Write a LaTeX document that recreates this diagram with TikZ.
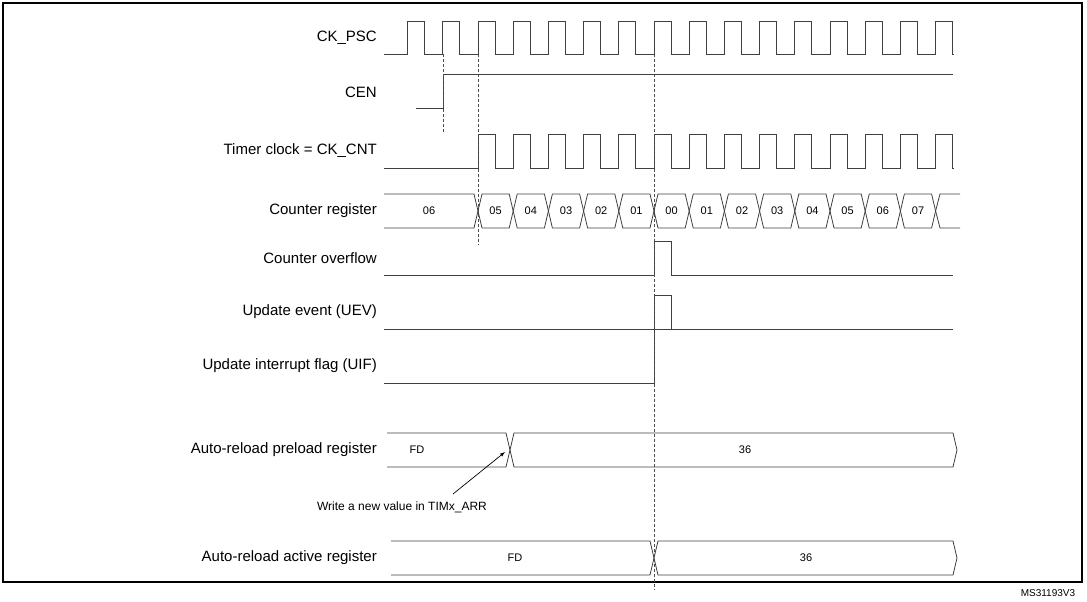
\documentclass[tikz,border=0pt]{standalone}
\usepackage{fontspec}
\setmainfont{Liberation Sans}
\tikzset{
  sig/.style={line width=0.8pt, black!75},
  guide/.style={densely dashed, line width=0.6pt, black!70},
  lbl/.style={anchor=east, inner sep=0pt, font=\fontsize{15}{15}\selectfont},
  val/.style={inner sep=0pt, font=\fontsize{11}{11}\selectfont}
}
% one bus segment between two transitions
\newcommand\busseg[5]{% #1 from, #2 to, #3 top, #4 bottom, #5 text
  \draw[sig] ({#1},{(#3+#4)/2}) -- ({#1+4},#3) -- ({#2-4},#3) -- ({#2},{(#3+#4)/2})
    -- ({#2-4},#4) -- ({#1+4},#4) -- cycle;
  \node[val] at ({(#1+#2)/2},{(#3+#4)/2}) {#5};}

\begin{document}
\begin{tikzpicture}[x=1pt, y=-1pt]
  \useasboundingbox (0,0) rectangle (1087,602);
  \draw[line width=1.2pt] (3,3) rectangle (1082,582);

  % labels
  \node[lbl] (psc) at (377,38) {CK\_PSC};
  \node[lbl] (cen) at (377,92) {CEN};
  \node[lbl] (cnt) at (377,151) {Timer clock = CK\_CNT};
  \node[lbl] (reg) at (377,211) {Counter register};
  \node[lbl] (ovf) at (377,258) {Counter overflow};
  \node[lbl] (uev) at (377,312) {Update event (UEV)};
  \node[lbl] (uif) at (377,366) {Update interrupt flag (UIF)};
  \node[lbl] (pre) at (377,450) {Auto-reload preload register};
  \node[lbl] (act) at (377,558) {Auto-reload active register};

  % clocks
  \draw[sig] (384,54) \foreach \k in {0,...,15}{
    -- ({407.6+35.2*\k},54) -- ++(0,-33) -- ++(17,0) -- ++(0,33)} -- (953,54);
  \draw[sig] (416,108) -- (443,108) -- (443,74) -- (953,74);
  \draw[sig] (384,168) \foreach \k in {2,...,15}{
    -- ({407.6+35.2*\k},168) -- ++(0,-34) -- ++(17,0) -- ++(0,34)} -- (953,168);

  % counter register
  \draw[sig] (384,194) -- (474,194) -- (478,211) -- (474,228) -- (384,228);
  \node[val] at (429,211) {06};
  \foreach \t [count=\i from 0] in {05,04,03,02,01,00,01,02,03,04,05,06,07}
    \busseg{478+35.2*\i}{478+35.2*(\i+1)}{194}{228}{\t};
  \draw[sig] (960,194) -- (940,194) -- (935.6,211) -- (940,228) -- (960,228);

  % overflow, event, flag
  \draw[sig] (384,275) -- (654,275) -- (654,241) -- (671,241) -- (671,275) -- (953,275);
  \draw[sig] (384,329) -- (654,329) -- (654,295) -- (671,295) -- (671,329) -- (953,329);
  \draw[sig] (384,383) -- (654,383) -- (654,329) -- (953,329);

  % auto-reload registers
  \draw[sig] (387,433) -- (506,433) -- (510,450) -- (506,467) -- (387,467);
  \busseg{510}{957}{433}{467}{};
  \node[val] at (417,450) {FD};
  \node[val] at (745,450) {36};
  \node[val, font=\fontsize{12}{12}\selectfont] (wr) at (402,507) {Write a new value in TIMx\_ARR};
  \coordinate (tip) at (505,452);
  \draw[-latex, line width=0.7pt] (453,494) -- (tip);

  \draw[sig] (391,541) -- (650,541) -- (654,558) -- (650,575) -- (391,575);
  \busseg{654}{957}{541}{575}{};
  \node[val] at (515,558) {FD};
  \node[val] at (806,558) {36};

  % markers
  \draw[guide] (443,54) -- (443,133);
  \draw[guide] (478,54) -- (478,245);
  \draw[guide] (654,54) -- (654,590);

  \node[val, font=\fontsize{10}{10}\selectfont] (id) at (1048,593) {MS31193V3};
\end{tikzpicture}
\end{document}
